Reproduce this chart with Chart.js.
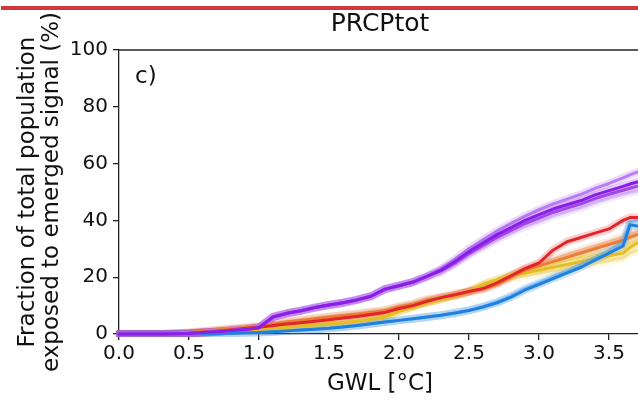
<!DOCTYPE html>
<html lang="en">
<head>
<meta charset="UTF-8">
<title>PRCPtot</title>
<script src="https://cdn.jsdelivr.net/npm/chart.js"></script>
<style>
  html, body { margin: 0; padding: 0; background: #fff; }
  #chart { display: block; }
</style>
</head>
<body>
<canvas id="chart" width="638" height="406"></canvas>
<script>
// GWL steps (°C) shared by every curve
const gwl = [0, 0.1, 0.2, 0.3, 0.4, 0.5, 0.6, 0.7, 0.8, 0.9,
             1.0, 1.1, 1.2, 1.3, 1.4, 1.5, 1.6, 1.7, 1.8, 1.9,
             2.0, 2.1, 2.2, 2.3, 2.4, 2.5, 2.6, 2.7, 2.8, 2.9,
             3.0, 3.1, 3.2, 3.3, 3.4, 3.5, 3.6, 3.65, 3.7];
const xTicks = [0, 0.5, 1.0, 1.5, 2.0, 2.5, 3.0, 3.5];
const yTicks = [0, 20, 40, 60, 80, 100];

// fraction of population (%)
const purpleHigh = [0,0,0,0,0.1,0.2,0.5,0.8,1.2,1.6,2.2,6.0,7.3,8.2,9.3,10.2,11.0,12.0,13.3,15.8,17.0,18.3,20.3,23.0,26.3,30.0,33.2,36.3,39.0,41.5,43.8,45.8,47.5,49.2,51.3,53.0,55.0,56.0,57.0];
const purpleMain = [0,0,0,0,0.1,0.2,0.5,0.8,1.2,1.6,2.2,6.0,7.3,8.2,9.3,10.2,11.0,12.0,13.3,15.8,17.0,18.3,20.3,22.5,25.5,29.0,32.0,35.0,37.5,40.0,42.0,44.0,45.5,47.0,49.0,50.5,52.0,52.8,53.5];
const purpleLow  = [0,0,0,0,0.1,0.2,0.5,0.8,1.2,1.6,2.2,6.0,7.3,8.2,9.3,10.2,11.0,12.0,13.3,15.8,17.0,18.3,20.3,22.2,25.0,28.3,31.2,34.0,36.5,38.9,40.8,42.8,44.3,45.8,47.7,49.2,50.6,51.3,52.0];
const purpleFaint= [0,0,0,0,0.1,0.2,0.5,0.8,1.2,1.6,2.2,6.0,7.3,8.2,9.3,10.2,11.0,12.0,13.3,15.8,17.0,18.3,20.0,21.8,24.5,27.8,30.5,33.2,35.5,37.8,39.6,41.5,43.0,44.5,46.3,47.8,49.2,49.8,50.3];
const red        = [0,0,0,0,0.1,0.3,0.6,1.0,1.4,1.9,2.4,3.0,3.5,4.0,4.5,5.0,5.6,6.2,6.9,7.6,9.0,10.0,11.5,12.8,13.8,15.0,16.0,18.0,20.5,23.0,25.0,29.5,32.5,34.0,35.5,37.0,40.0,41.0,41.0];
const orange     = [0,0,0,0,0.2,0.5,0.9,1.4,1.8,2.2,2.6,3.5,4.2,4.8,5.4,6.0,6.5,7.0,7.6,8.2,9.5,10.5,12.0,12.8,13.8,14.8,15.8,17.5,20.0,22.5,24.0,25.5,27.0,28.5,30.0,31.5,33.0,34.0,35.0];
const orangeLight= [0,0,0,0,0.2,0.5,1.0,1.5,2.0,2.4,2.8,3.7,4.4,5.0,5.6,6.2,6.7,7.3,7.9,8.5,9.8,10.8,12.3,13.2,14.2,15.2,16.3,18.0,20.6,23.0,24.8,26.3,28.0,29.5,31.0,32.5,34.2,35.2,36.0];
const yellowHigh = [0,0,0,0,0,0.2,0.4,0.7,1.0,1.3,1.6,2.0,2.4,2.8,3.2,3.6,4.0,4.5,5.2,6.0,8.0,9.5,11.0,12.3,13.5,15.0,17.5,19.3,21.0,22.5,23.5,24.8,26.0,27.0,28.0,29.0,30.5,32.0,33.0];
const yellow     = [0,0,0,0,0,0.2,0.4,0.7,1.0,1.3,1.6,2.0,2.4,2.8,3.2,3.6,4.0,4.5,5.2,6.0,8.0,9.5,11.0,12.3,13.5,15.0,17.5,19.0,20.5,21.5,22.5,23.5,24.5,25.5,26.5,27.5,28.5,30.5,32.0];
const yellowLow  = [0,0,0,0,0,0.2,0.4,0.7,1.0,1.3,1.6,2.0,2.4,2.8,3.2,3.6,4.0,4.5,5.2,6.0,8.0,9.5,11.0,12.3,13.5,15.0,17.0,18.5,19.7,20.5,21.5,22.3,23.2,24.0,25.0,25.8,26.8,28.5,29.5];
const blue       = [0,0,0,0,0,0.05,0.1,0.2,0.3,0.4,0.5,0.8,1.1,1.4,1.7,2.0,2.5,3.0,3.6,4.2,4.8,5.4,6.0,6.6,7.4,8.3,9.5,11.0,13.0,15.5,17.5,19.5,21.5,23.5,26.0,28.5,31.0,38.5,38.0];
const blueLight  = [0,0,0,0,0,0.05,0.1,0.2,0.3,0.4,0.5,0.8,1.1,1.4,1.7,2.0,2.5,3.0,3.6,4.2,4.8,5.4,6.0,6.6,7.4,8.4,9.7,11.3,13.4,16.0,18.0,20.2,22.3,24.5,27.0,29.5,32.5,39.5,40.0];

// first entry is drawn on top
const curves = [
  { values: purpleMain,  color: '#8a1ee6', alpha: 1 },
  { values: purpleLow,   color: '#9a3cea', alpha: 0.9 },
  { values: purpleHigh,  color: '#a95cf0', alpha: 0.75 },
  { values: purpleFaint, color: '#c89cf4', alpha: 0.6 },
  { values: blue,        color: '#1f80e0', alpha: 1 },
  { values: blueLight,   color: '#5aa5ec', alpha: 0.6 },
  { values: red,         color: '#e2242b', alpha: 1 },
  { values: orange,      color: '#ea7a30', alpha: 0.95 },
  { values: orangeLight, color: '#eea070', alpha: 0.6 },
  { values: yellow,      color: '#e4bc1c', alpha: 0.95 },
  { values: yellowHigh,  color: '#e9cc4a', alpha: 0.6 },
  { values: yellowLow,   color: '#ecd466', alpha: 0.55 }
];

function rgba(hex, a) {
  const n = parseInt(hex.slice(1), 16);
  return `rgba(${n >> 16}, ${(n >> 8) & 255}, ${n & 255}, ${a})`;
}

const datasets = [];
curves.forEach(c => {
  const pts = gwl.map((x, i) => ({ x: x, y: c.values[i] }));
  datasets.push({ data: pts, borderColor: rgba(c.color, c.alpha), borderWidth: 3, order: 1 });
  datasets.push({ data: pts, borderColor: rgba(c.color, 0.22), borderWidth: 8, order: 2 });
});
datasets.forEach(d => {
  d.pointRadius = 0;
  d.fill = false;
  d.tension = 0;
  d.clip = 3;
  d.borderJoinStyle = 'round';
  d.borderCapStyle = 'round';
});

// titles, panel letter, top spine and the red strip
const decor = {
  id: 'decor',
  afterDraw(chart) {
    const ctx = chart.ctx;
    const a = chart.chartArea;
    ctx.save();
    ctx.fillStyle = '#d3363b';
    ctx.fillRect(1, 6, 637, 4);

    ctx.strokeStyle = '#222';
    ctx.lineWidth = 1.3;
    ctx.beginPath();
    ctx.moveTo(a.left, a.top);
    ctx.lineTo(a.right, a.top);
    ctx.stroke();

    ctx.fillStyle = '#111';
    ctx.textAlign = 'center';
    ctx.textBaseline = 'middle';
    ctx.font = '25px "DejaVu Sans"';
    ctx.fillText('PRCPtot', 380, 24);
    ctx.font = '23px "DejaVu Sans"';
    ctx.fillText('GWL [°C]', 380, 384);

    ctx.textAlign = 'left';
    ctx.textBaseline = 'alphabetic';
    ctx.fillText('c)', 135, 83);

    ctx.translate(0, 192);
    ctx.rotate(-Math.PI / 2);
    ctx.textAlign = 'center';
    ctx.textBaseline = 'middle';
    ctx.fillText('Fraction of total population', 0, 28);
    ctx.fillText('exposed to emerged signal (%)', 0, 52);
    ctx.restore();
  }
};

new Chart(document.getElementById('chart'), {
  type: 'line',
  data: { datasets: datasets },
  options: {
    responsive: false,
    animation: false,
    layout: { padding: { top: 50, right: 0, left: 0, bottom: 0 } },
    plugins: { legend: { display: false }, tooltip: { enabled: false } },
    scales: {
      x: {
        type: 'linear',
        min: 0,
        max: 3.707,
        afterBuildTicks: s => { s.ticks = xTicks.map(v => ({ value: v })); },
        afterFit: s => { s.height = 72; },
        ticks: {
          callback: v => v.toFixed(1),
          font: { family: 'DejaVu Sans', size: 20 },
          color: '#111',
          padding: 2,
          maxRotation: 0,
          autoSkip: false
        },
        grid: { drawOnChartArea: false, tickLength: 6, color: '#222', lineWidth: 1.3 },
        border: { color: '#222', width: 1.3 }
      },
      y: {
        min: 0,
        max: 100,
        afterBuildTicks: s => { s.ticks = yTicks.map(v => ({ value: v })); },
        afterFit: s => { s.width = 119; },
        ticks: {
          font: { family: 'DejaVu Sans', size: 20 },
          color: '#111',
          padding: 5
        },
        grid: { drawOnChartArea: false, tickLength: 6, color: '#222', lineWidth: 1.3 },
        border: { color: '#222', width: 1.3 }
      }
    }
  },
  plugins: [decor]
});
</script>
</body>
</html>
